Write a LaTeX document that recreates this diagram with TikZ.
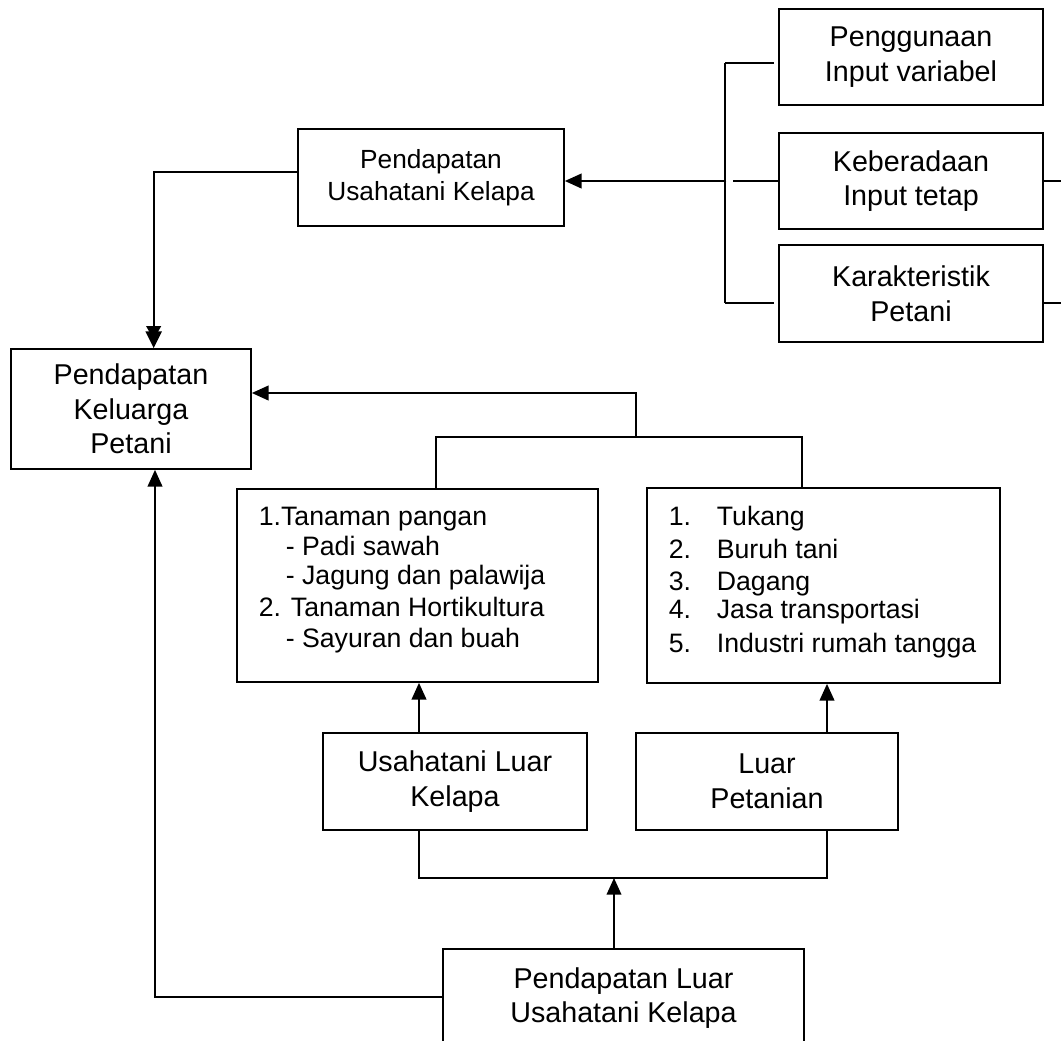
\documentclass[tikz,border=0pt]{standalone}
\usepackage{fontspec}
\setmainfont{Liberation Sans}
\usetikzlibrary{arrows.meta}
\begin{document}
\begin{tikzpicture}[x=0.75pt,y=-0.75pt,
  line width=1.3pt,
  bx/.style 2 args={draw, minimum width=#1*0.75pt, minimum height=#2*0.75pt, inner sep=0pt, align=center, font=\fontsize{21.5}{26}\selectfont},
  lt/.style={inner sep=0pt, anchor=base west, font=\fontsize{20}{23}\selectfont},
  arr/.style={-{Triangle[length=12.5pt,width=11pt]}},
  darr/.style={-{Triangle[length=10pt,width=11pt,sep=-6pt]Triangle[length=12.5pt,width=12pt]}}]
\clip (0,0) rectangle (1061,1040);
\fill[white] (0,0) rectangle (1061,1040);

% boxes
\node[bx={264}{96}] (piv) at (911,57) {Penggunaan\\Input variabel};
\node[bx={264}{96}] (kit) at (911,181) {Keberadaan\\Input tetap};
\node[bx={264}{97}] (kp) at (911,293.5) {Karakteristik\\Petani};
\node[bx={266}{97}, font=\fontsize{19.7}{24}\selectfont] (puk) at (431,177.5) {Pendapatan\\Usahatani Kelapa};
\node[bx={240}{120}] (pkp) at (131,409) {Pendapatan\\Keluarga\\Petani};
\node[bx={361}{193}] (l1) at (417.5,585.5) {};
\node[bx={353}{195}] (l2) at (823.5,585.5) {};
\node[bx={264}{97}] (ulk) at (455,781.5) {Usahatani Luar\\Kelapa};
\node[bx={262}{97}] (lp) at (767,781.5) {Luar\\Petanian};
\node[bx={361}{98}] (pluk) at (623.5,998) {Pendapatan Luar\\Usahatani Kelapa};

% list texts
\foreach \i/\x/\y/\t in {1/258/525/{1.Tanaman pangan}, 2/285/555/{- Padi sawah}, 3/285/584/{- Jagung dan palawija}, 4/258/616/{2. Tanaman Hortikultura}, 5/285/647/{- Sayuran dan buah}}
  \node[lt] (la\i) at (\x,\y) {\t};
\foreach \i/\y/\t in {1/525/Tukang, 2/558/{Buruh tani}, 3/590/Dagang, 4/618/{Jasa transportasi}, 5/652/{Industri rumah tangga}}{
  \node[lt] (lbn\i) at (668,\y) {\i.};
  \node[lt] (lbt\i) at (716,\y) {\t};
}

% coordinates
\coordinate (bt) at (725,63);
\coordinate (bm) at (725,181);
\coordinate (bb) at (725,303);
\coordinate (j1) at (636,437);
\coordinate (a1) at (436,489);
\coordinate (a2) at (802,489);
\coordinate (u1) at (419,733);
\coordinate (u2) at (827,733);
\coordinate (c1) at (419,830);
\coordinate (c2) at (827,830);
\coordinate (cm) at (614,878);
\coordinate (r1) at (1061,181);
\coordinate (r2) at (1061,303);

% right bracket
\draw (bt) -- (bb);
\draw[shorten >=3pt] (bt) -- (bt -| piv.west);
\draw[shorten >=3pt] (bb) -- (bb -| kp.west);
\draw ([xshift=6pt]bm) -- (kit.west);
\draw[arr] ([xshift=1pt]bm) -- (bm -| puk.east);
\draw (kit.east) -- (r1);
\draw (r2 -| kp.east) -- (r2);

% to Pendapatan Keluarga Petani
\draw[darr] ([yshift=4pt]puk.west) -| ([xshift=17pt]pkp.north);
\draw[arr] (j1) |- ([yshift=12pt]pkp.east);
\draw (a1) |- (j1) -| (a2);

% lower part
\draw[arr] (u1) -- (u1 |- l1.south);
\draw[arr] (u2) -- (u2 |- l2.south);
\draw (c1) |- (cm) -| (c2);
\draw[arr] (cm |- pluk.north) -- (cm);
\draw[arr] ([yshift=1pt]pluk.west) -| ([xshift=18pt]pkp.south);
\end{tikzpicture}
\end{document}
